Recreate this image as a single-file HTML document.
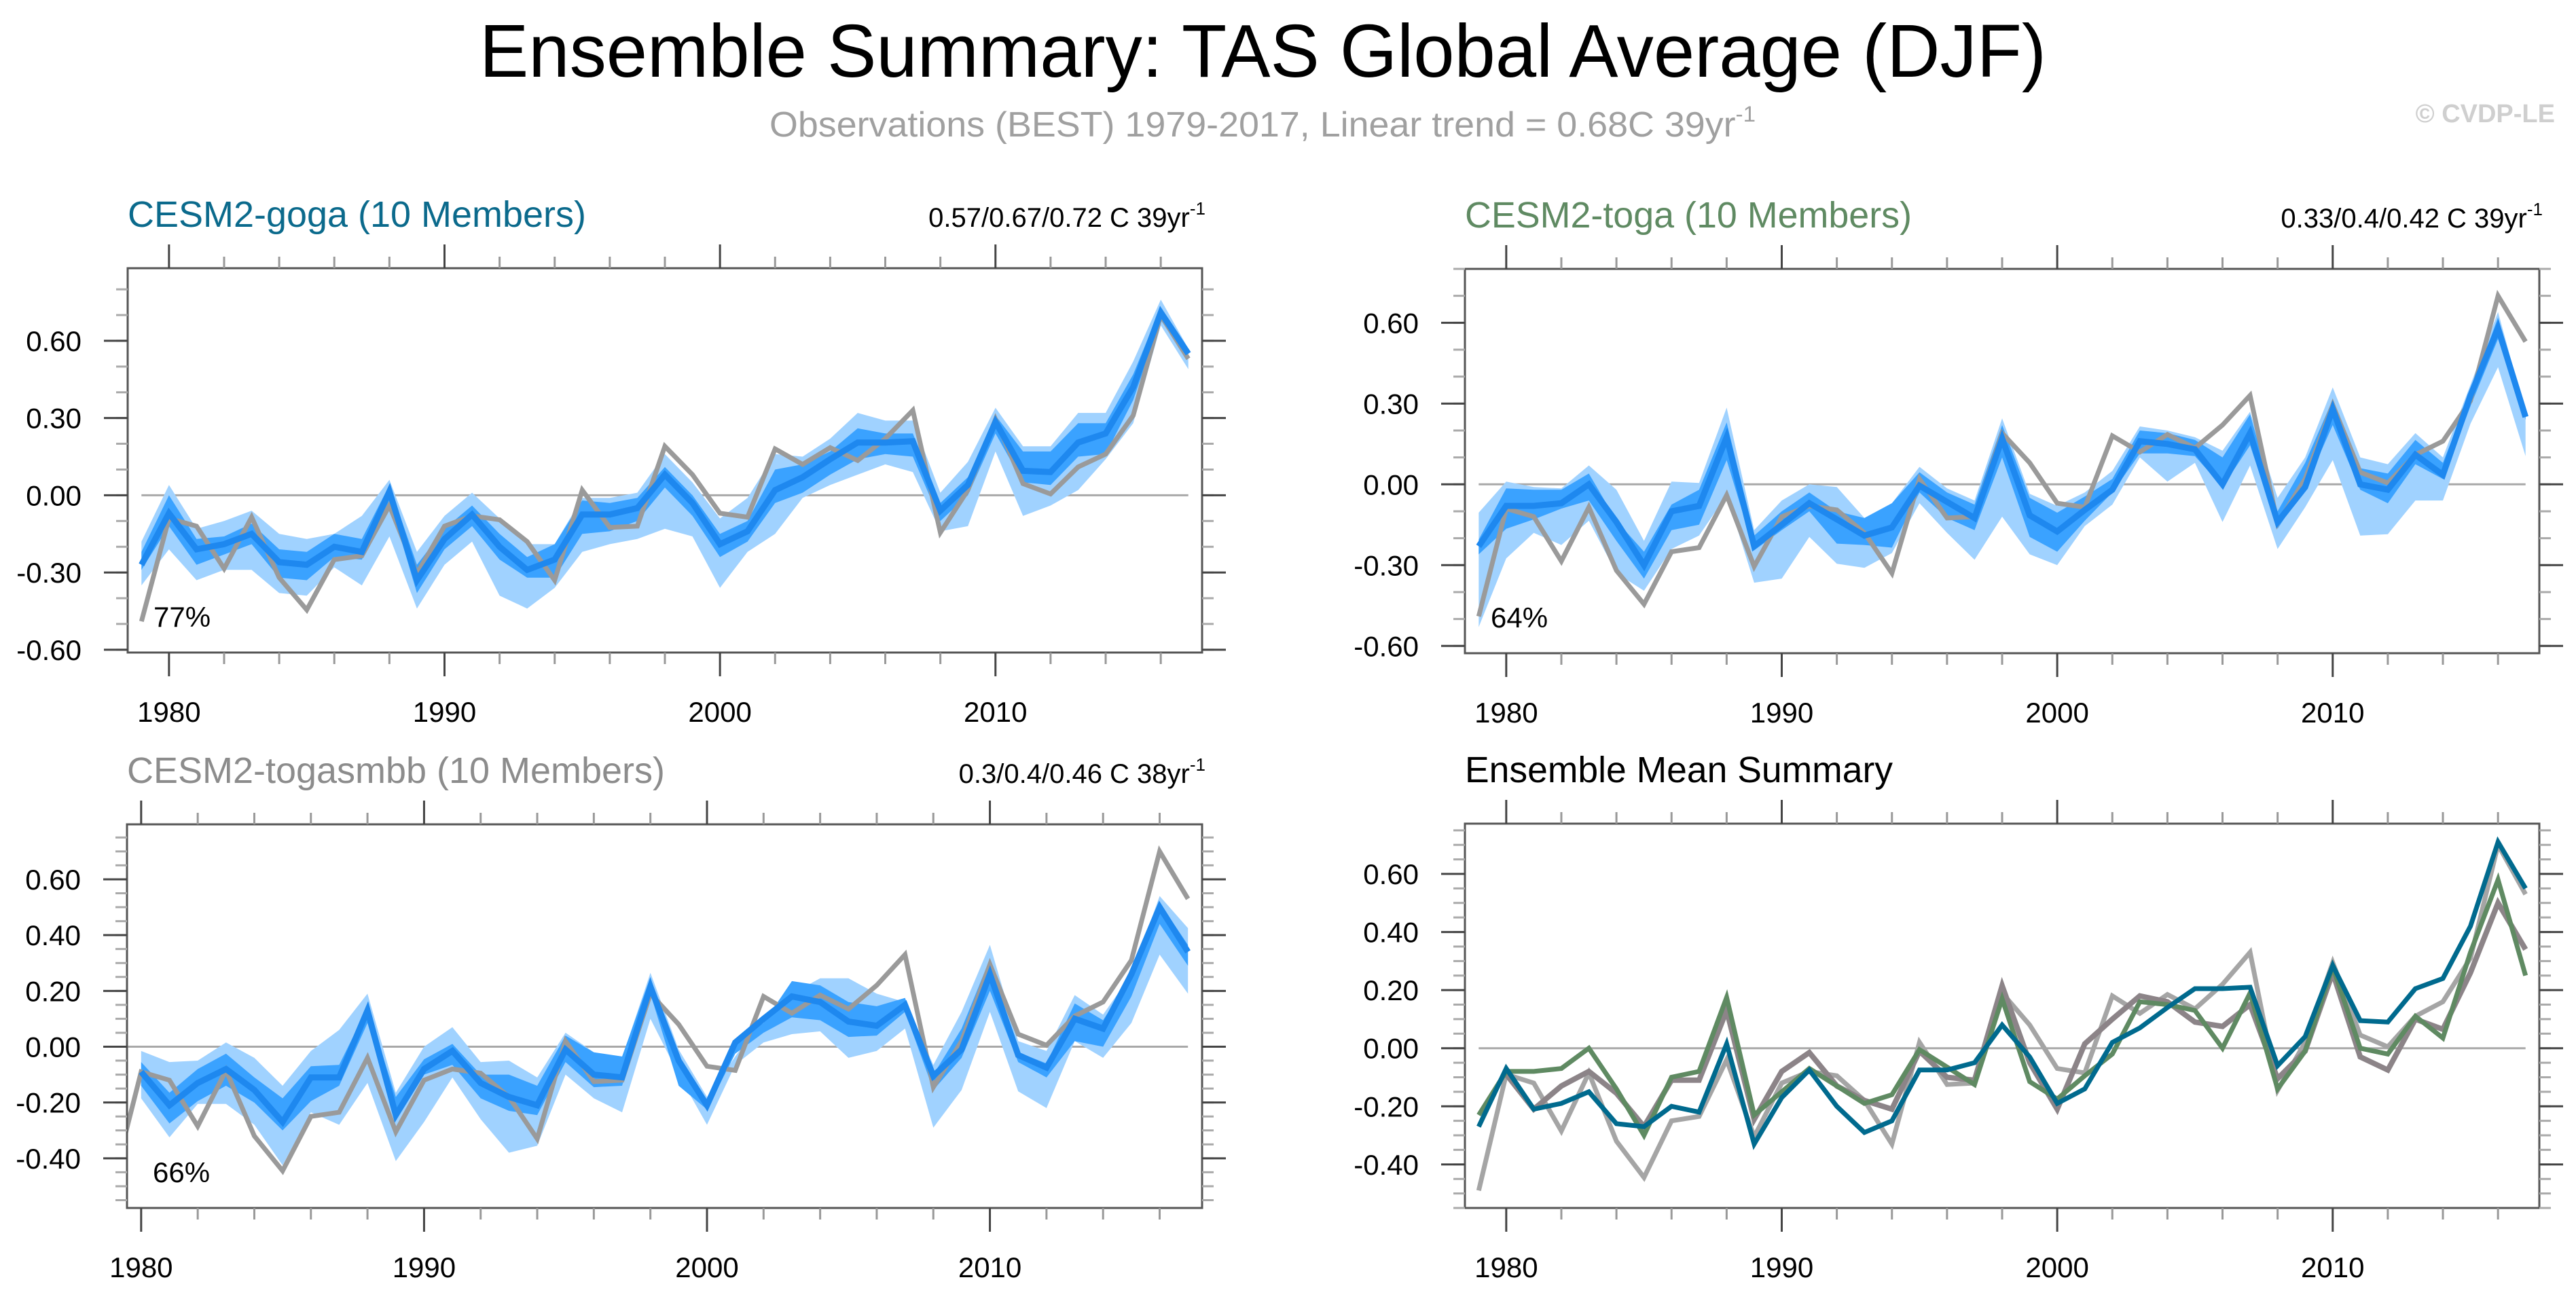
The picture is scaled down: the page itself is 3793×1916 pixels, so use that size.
<!DOCTYPE html>
<html><head><meta charset="utf-8"><style>
html,body{margin:0;padding:0;background:#fff;}
svg{display:block;font-family:"Liberation Sans",sans-serif;}
</style></head><body>
<svg id="chart" width="3793" height="1916" viewBox="0 0 3793 1916" xmlns="http://www.w3.org/2000/svg">
<rect x="0" y="0" width="3793" height="1916" fill="#fff"/>
<text x="706" y="113" font-size="110" textLength="2307" lengthAdjust="spacingAndGlyphs">Ensemble Summary: TAS Global Average (DJF)</text>
<text x="1133" y="201" font-size="52" fill="#a0a0a0" textLength="1452" lengthAdjust="spacingAndGlyphs">Observations (BEST) 1979-2017, Linear trend = 0.68C 39yr<tspan font-size="32" dy="-22">-1</tspan></text>
<text x="3762" y="180" font-size="38" fill="#cfcfcf" text-anchor="end" font-weight="bold">© CVDP-LE</text>
</svg>
<script>
const years=[1979,1980,1981,1982,1983,1984,1985,1986,1987,1988,1989,1990,1991,1992,1993,1994,1995,1996,1997,1998,1999,2000,2001,2002,2003,2004,2005,2006,2007,2008,2009,2010,2011,2012,2013,2014,2015,2016,2017];
const obs=[-0.49,-0.09,-0.12,-0.285,-0.085,-0.32,-0.445,-0.25,-0.235,-0.04,-0.305,-0.12,-0.08,-0.095,-0.18,-0.33,0.02,-0.125,-0.12,0.19,0.08,-0.07,-0.085,0.18,0.12,0.185,0.135,0.22,0.33,-0.145,0.02,0.295,0.045,0.005,0.11,0.16,0.31,0.70,0.53];
const gogaMean=[-0.27,-0.07,-0.21,-0.19,-0.15,-0.26,-0.27,-0.20,-0.22,0.015,-0.33,-0.17,-0.075,-0.20,-0.29,-0.25,-0.075,-0.075,-0.05,0.08,-0.03,-0.19,-0.14,0.02,0.07,0.14,0.205,0.205,0.21,-0.06,0.04,0.285,0.095,0.09,0.205,0.24,0.42,0.71,0.55];
const gogaOutUp=[-0.18,0.04,-0.13,-0.10,-0.06,-0.15,-0.17,-0.15,-0.08,0.06,-0.22,-0.08,0.01,-0.09,-0.19,-0.19,-0.01,-0.01,0.01,0.16,0.05,-0.09,-0.01,0.16,0.15,0.22,0.32,0.29,0.29,0.01,0.13,0.34,0.19,0.19,0.32,0.32,0.52,0.76,0.57];
const gogaOutLo=[-0.35,-0.21,-0.33,-0.29,-0.29,-0.38,-0.39,-0.28,-0.35,-0.16,-0.44,-0.27,-0.18,-0.39,-0.44,-0.36,-0.22,-0.19,-0.17,-0.13,-0.16,-0.36,-0.22,-0.15,-0.01,0.04,0.08,0.12,0.09,-0.14,-0.12,0.17,-0.08,-0.04,0.02,0.14,0.28,0.66,0.49];
const gogaInUp=[-0.22,0.0,-0.17,-0.16,-0.11,-0.21,-0.22,-0.15,-0.17,0.04,-0.27,-0.13,-0.04,-0.15,-0.24,-0.19,-0.02,-0.03,-0.01,0.11,0.0,-0.15,-0.10,0.10,0.12,0.17,0.26,0.24,0.24,-0.03,0.07,0.31,0.17,0.17,0.28,0.28,0.47,0.73,0.56];
const gogaInLo=[-0.29,-0.12,-0.27,-0.23,-0.19,-0.32,-0.33,-0.24,-0.25,-0.02,-0.38,-0.21,-0.12,-0.25,-0.32,-0.32,-0.15,-0.14,-0.10,0.03,-0.08,-0.24,-0.18,-0.03,0.01,0.08,0.14,0.16,0.15,-0.10,0.0,0.24,0.05,0.04,0.15,0.16,0.37,0.68,0.53];
const togaMean=[-0.23,-0.08,-0.08,-0.07,0.00,-0.14,-0.30,-0.10,-0.08,0.175,-0.23,-0.15,-0.07,-0.13,-0.19,-0.16,-0.005,-0.065,-0.125,0.17,-0.115,-0.175,-0.095,-0.02,0.16,0.15,0.13,0.00,0.19,-0.14,-0.01,0.28,0.00,-0.02,0.11,0.035,0.33,0.58,0.25];
const togaOutUp=[-0.105,0.01,-0.01,-0.015,0.07,-0.02,-0.21,0.01,0.005,0.285,-0.17,-0.06,0,-0.01,-0.125,-0.07,0.065,-0.015,-0.06,0.245,-0.035,-0.08,-0.03,0.05,0.215,0.2,0.175,0.125,0.27,-0.05,0.1,0.36,0.1,0.075,0.19,0.1,0.37,0.64,0.265];
const togaOutLo=[-0.53,-0.275,-0.18,-0.225,-0.135,-0.33,-0.395,-0.24,-0.19,-0.04,-0.365,-0.35,-0.195,-0.295,-0.31,-0.255,-0.07,-0.18,-0.28,-0.12,-0.26,-0.3,-0.155,-0.075,0.1,0.01,0.08,-0.14,0.07,-0.24,-0.085,0.09,-0.19,-0.185,-0.06,-0.06,0.225,0.435,0.105];
const togaInUp=[-0.205,-0.015,-0.02,-0.02,0.04,-0.135,-0.25,-0.075,-0.02,0.23,-0.19,-0.1,-0.03,-0.1,-0.125,-0.07,0.045,-0.03,-0.075,0.22,-0.05,-0.105,-0.045,0.02,0.2,0.19,0.165,0.1,0.26,-0.1,0.08,0.315,0.06,0.04,0.165,0.08,0.34,0.62,0.25];
const togaInLo=[-0.26,-0.165,-0.13,-0.09,-0.06,-0.21,-0.35,-0.17,-0.15,0.09,-0.245,-0.17,-0.1,-0.22,-0.225,-0.235,-0.03,-0.125,-0.17,0.1,-0.195,-0.25,-0.135,-0.03,0.115,0.115,0.105,-0.01,0.145,-0.165,-0.01,0.22,-0.02,-0.07,0.075,0.02,0.29,0.54,0.24];
const smbbMean=[null,-0.09,-0.21,-0.13,-0.08,-0.155,-0.27,-0.11,-0.11,0.13,-0.245,-0.08,-0.015,-0.13,-0.18,-0.21,-0.01,-0.10,-0.11,0.215,-0.05,-0.21,0.015,0.10,0.18,0.16,0.09,0.075,0.15,-0.105,-0.01,0.26,-0.03,-0.075,0.10,0.065,0.26,0.50,0.34];
const smbbOutUp=[null,-0.015,-0.055,-0.05,0.015,-0.04,-0.14,-0.015,0.06,0.19,-0.165,0,0.07,-0.055,-0.05,-0.11,0.05,-0.02,-0.04,0.265,-0.01,-0.18,-0.035,0.105,0.19,0.245,0.245,0.19,0.16,-0.065,0.125,0.365,0.02,-0.015,0.185,0.115,0.26,0.54,0.425];
const smbbOutLo=[null,-0.185,-0.325,-0.205,-0.205,-0.28,-0.425,-0.235,-0.28,-0.13,-0.41,-0.27,-0.11,-0.26,-0.38,-0.355,-0.1,-0.185,-0.235,0.1,-0.1,-0.28,-0.065,0.015,0.045,0.055,-0.04,-0.015,0.065,-0.29,-0.155,0.125,-0.16,-0.22,0.02,-0.04,0.085,0.33,0.19];
const smbbInUp=[null,-0.055,-0.165,-0.08,-0.025,-0.11,-0.185,-0.07,-0.065,0.14,-0.18,-0.045,0.01,-0.1,-0.1,-0.14,0.04,-0.02,-0.035,0.25,-0.065,-0.195,0.02,0.085,0.235,0.22,0.16,0.145,0.175,-0.1,0.065,0.315,-0.02,-0.06,0.155,0.095,0.255,0.515,0.365];
const smbbInLo=[null,-0.14,-0.275,-0.195,-0.14,-0.2,-0.3,-0.195,-0.14,0.085,-0.26,-0.1,-0.065,-0.185,-0.23,-0.245,-0.055,-0.145,-0.14,0.19,-0.14,-0.225,-0.025,0.05,0.105,0.095,0.035,0.04,0.125,-0.155,-0.04,0.2,-0.055,-0.11,0.02,0,0.18,0.44,0.29];
const xTickLabels=["1980","1990","2000","2010"];
const yTickTop=["-0.60","-0.30","0.00","0.30","0.60"];
const yTickBottom=["-0.40","-0.20","0.00","0.20","0.40","0.60"];

const NS="http://www.w3.org/2000/svg";
const svg=document.getElementById('chart');
function mk(tag,attrs,parent){const e=document.createElementNS(NS,tag);for(const k in attrs)e.setAttribute(k,attrs[k]);(parent||svg).appendChild(e);return e;}

const panels=[
 {id:'goga',x0:188,x1:1770,y0:395,y1:961,xmin:1978.5,xmax:2017.5,ymin:-0.611,ymax:0.882,major:yTickTop,minorStep:0.1,
  title:'CESM2-goga (10 Members)',tcol:'#0b6a8c',tlen:675,trend:'0.57/0.67/0.72 C 39yr',pct:'77%',
  mean:gogaMean,ou:gogaOutUp,ol:gogaOutLo,iu:gogaInUp,il:gogaInLo},
 {id:'toga',x0:2157,x1:3739,y0:396,y1:962,xmin:1978.5,xmax:2017.5,ymin:-0.627,ymax:0.80,major:yTickTop,minorStep:0.1,
  title:'CESM2-toga (10 Members)',tcol:'#5f8a62',tlen:658,trend:'0.33/0.4/0.42 C 39yr',pct:'64%',
  mean:togaMean,ou:togaOutUp,ol:togaOutLo,iu:togaInUp,il:togaInLo},
 {id:'togasmbb',x0:187,x1:1770,y0:1214,y1:1779,xmin:1979.5,xmax:2017.5,ymin:-0.578,ymax:0.797,major:yTickBottom,minorStep:0.05,
  title:'CESM2-togasmbb (10 Members)',tcol:'#8c8c8c',tlen:792,trend:'0.3/0.4/0.46 C 38yr',pct:'66%',
  mean:smbbMean,ou:smbbOutUp,ol:smbbOutLo,iu:smbbInUp,il:smbbInLo},
 {id:'mean-summary',x0:2157,x1:3739,y0:1213,y1:1779,xmin:1978.5,xmax:2017.5,ymin:-0.55,ymax:0.773,major:yTickBottom,minorStep:0.05,
  title:'Ensemble Mean Summary',tcol:'#000',tlen:630,summary:true}
];

panels.forEach(p=>{
  const g=mk('g',{});
  
  
  const X=v=>p.x0+(v-p.xmin)/(p.xmax-p.xmin)*(p.x1-p.x0);
  const Y=v=>p.y1-(v-p.ymin)/(p.ymax-p.ymin)*(p.y1-p.y0);
  const defs=mk('defs',{},g);
  const cp=mk('clipPath',{id:'clip-'+p.id},defs);
  mk('rect',{x:p.x0,y:p.y0,width:p.x1-p.x0,height:p.y1-p.y0},cp);
  const plot=mk('g',{'clip-path':'url(#clip-'+p.id+')'},g);
  
  
  const zl=mk('line',{x1:X(years[0]),x2:X(years[years.length-1]),y1:Y(0),y2:Y(0),stroke:'#a8a8a8','stroke-width':3},plot);
  
  
  const linePts=arr=>{const pts=[];arr.forEach((v,i)=>{if(v!==null)pts.push(X(years[i]).toFixed(1)+','+Y(v).toFixed(1));});return pts.join(' ');};
  const bandPts=(up,lo)=>{const a=[],b=[];up.forEach((v,i)=>{if(v!==null)a.push(X(years[i]).toFixed(1)+','+Y(v).toFixed(1));});
    for(let i=lo.length-1;i>=0;i--){if(lo[i]!==null)b.push(X(years[i]).toFixed(1)+','+Y(lo[i]).toFixed(1));}return a.concat(b).join(' ');};
  if(!p.summary){
    const ob=mk('polygon',{points:bandPts(p.ou,p.ol),fill:'#a0d2ff'},plot);
    
    
    const ib=mk('polygon',{points:bandPts(p.iu,p.il),fill:'#3aa2ff'},plot);
    
    
    const ol=mk('polyline',{points:linePts(obs),fill:'none',stroke:'#9a9a9a','stroke-width':7,'stroke-linejoin':'miter'},plot);
    
    
    const ml=mk('polyline',{points:linePts(p.mean),fill:'none',stroke:'#1e88ef','stroke-width':9,'stroke-linejoin':'miter'},plot);
    
    
    const pt=mk('text',{x:p.x0+38,y:p.y1-38,'font-size':42},g);
    pt.textContent=p.pct;
    
    
  } else {
    const l0=mk('polyline',{points:linePts(obs),fill:'none',stroke:'#a5a5a5','stroke-width':7},plot);
    
    
    const l1=mk('polyline',{points:linePts(smbbMean),fill:'none',stroke:'#8c8488','stroke-width':8},plot);
    
    
    const l2=mk('polyline',{points:linePts(togaMean),fill:'none',stroke:'#5f8a62','stroke-width':7},plot);
    
    
    const l3=mk('polyline',{points:linePts(gogaMean),fill:'none',stroke:'#006a8e','stroke-width':7},plot);
    
    
  }
  const box=mk('rect',{x:p.x0,y:p.y0,width:p.x1-p.x0,height:p.y1-p.y0,fill:'none',stroke:'#555','stroke-width':3},g);
  
  
  for(let yr=1980;yr<=2016;yr+=2){
    const maj=yr%10===0;const len=maj?35:17;const xx=X(yr);
    mk('line',{x1:xx,x2:xx,y1:p.y0,y2:p.y0-len,stroke:maj?'#444':'#999','stroke-width':3},g);
    mk('line',{x1:xx,x2:xx,y1:p.y1,y2:p.y1+len,stroke:maj?'#444':'#999','stroke-width':3},g);
  }
  xTickLabels.forEach(lbl=>{
    const t=mk('text',{x:X(+lbl),y:p.y1+102,'font-size':42,'text-anchor':'middle'},g);
    t.textContent=lbl;
    
    
  });
  const s=p.minorStep;
  for(let k=Math.ceil(p.ymin/s-1e-6);k*s<=p.ymax+1e-9;k++){
    const v=k*s;const yy=Y(v);
    mk('line',{x1:p.x0,x2:p.x0-17,y1:yy,y2:yy,stroke:'#aaa','stroke-width':3},g);
    mk('line',{x1:p.x1,x2:p.x1+17,y1:yy,y2:yy,stroke:'#aaa','stroke-width':3},g);
  }
  p.major.forEach(lbl=>{
    const yy=Y(parseFloat(lbl));
    mk('line',{x1:p.x0,x2:p.x0-35,y1:yy,y2:yy,stroke:'#444','stroke-width':3},g);
    mk('line',{x1:p.x1,x2:p.x1+35,y1:yy,y2:yy,stroke:'#444','stroke-width':3},g);
    const t=mk('text',{x:p.x0-68,y:yy+15,'font-size':42,'text-anchor':'end'},g);
    t.textContent=lbl;
    
    
  });
  const tt=mk('text',{x:p.x0,y:p.y0-61,'font-size':54,fill:p.tcol,textLength:p.tlen,lengthAdjust:'spacingAndGlyphs'},g);
  tt.textContent=p.title;
  
  
  if(p.trend){
    const tr=mk('text',{x:p.x1+5,y:p.y0-61,'font-size':40,'text-anchor':'end'},g);
    
    
    const a=mk('tspan',{},tr);a.textContent=p.trend;
    const b=mk('tspan',{'font-size':26,dy:-18},tr);b.textContent='-1';
  }
});
</script>
</body></html>
